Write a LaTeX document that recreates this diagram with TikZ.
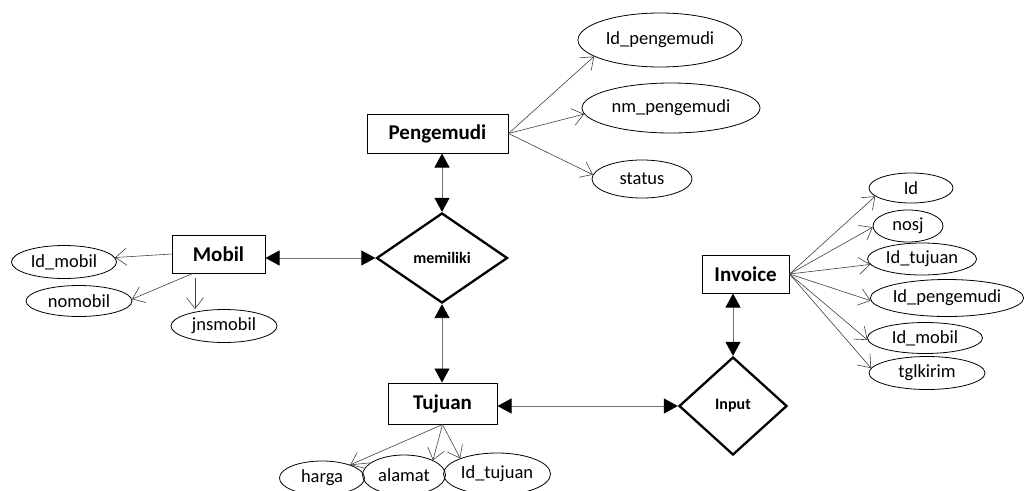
\documentclass[tikz,border=0pt]{standalone}
\usepackage{fontspec}
\setmainfont{Carlito}
\usetikzlibrary{arrows.meta,shapes.geometric}
\begin{document}
\begin{tikzpicture}[x=1pt,y=-1pt,
  entity/.style={draw,line width=1pt,rectangle,inner sep=0pt,font=\fontsize{21}{21}\selectfont\bfseries},
  rel/.style={draw,line width=2.3pt,diamond,inner sep=0pt,font=\fontsize{16}{16}\selectfont\bfseries},
  attr/.style={draw,line width=0.8pt,ellipse,inner sep=0pt,font=\fontsize{18.5}{18.5}\selectfont},
  aline/.style={draw=black!75,line width=0.6pt,-{Straight Barb[length=11pt,width=17pt,line width=0.6pt]}},
  rline/.style={draw=black!55,line width=0.9pt,{Triangle[length=14pt,width=15pt,color=black]}-{Triangle[length=14pt,width=15pt,color=black]}}
]
\useasboundingbox (0,0) rectangle (1024,490);
% entities
\node[entity,minimum width=141pt,minimum height=39pt] (peng) at (437.5,133.5) {Pengemudi};
\node[entity,minimum width=93pt,minimum height=38pt] (mobil) at (218.5,254) {Mobil};
\node[entity,minimum width=109pt,minimum height=41pt] (tuj) at (442.5,403.5) {Tujuan};
\node[entity,minimum width=87pt,minimum height=38pt] (inv) at (745.5,274) {Invoice};
% relationships
\node[rel,minimum width=131pt,minimum height=90pt] (mem) at (442,258) {memiliki};
\node[rel,minimum width=108pt,minimum height=98pt] (inp) at (733,406) {Input};
% attributes
\node[attr,minimum width=164pt,minimum height=54pt] (idp) at (660,40) {Id\_pengemudi};
\node[attr,minimum width=178pt,minimum height=50pt] (nmp) at (671,108) {nm\_pengemudi};
\node[attr,minimum width=100pt,minimum height=38pt] (status) at (642,179) {status};
\node[attr,minimum width=105pt,minimum height=33pt] (idm) at (64,262) {Id\_mobil};
\node[attr,minimum width=106pt,minimum height=31pt] (nom) at (79,301) {nomobil};
\node[attr,minimum width=106pt,minimum height=33pt] (jns) at (224,326) {jnsmobil};
\node[attr,minimum width=85pt,minimum height=34pt] (harga) at (322,478) {harga};
\node[attr,minimum width=83pt,minimum height=40pt] (alamat) at (404,475) {alamat};
\node[attr,minimum width=107pt,minimum height=42pt] (idt) at (497,474) {Id\_tujuan};
\node[attr,minimum width=84pt,minimum height=30pt] (iid) at (911,188) {Id};
\node[attr,minimum width=70pt,minimum height=32pt] (nosj) at (908,226) {nosj};
\node[attr,minimum width=109pt,minimum height=32pt] (iidt) at (922,259) {Id\_tujuan};
\node[attr,minimum width=149pt,minimum height=37pt] (iidp) at (947,298) {Id\_pengemudi};
\node[attr,minimum width=115pt,minimum height=31pt] (iidm) at (925,338) {Id\_mobil};
\node[attr,minimum width=116pt,minimum height=33pt] (tgl) at (927,373) {tglkirim};
% attribute connectors
\draw[aline] (peng.east) -- (idp.194);
\draw[aline] (peng.east) -- (nmp.184);
\draw[aline] (peng.east) -- (status.175);
\draw[aline] (mobil.west) -- (idm.5);
\draw[aline] (mobil.217) -- (nom.2);
\coordinate (jm) at (195,278);
\draw[aline] (jm) -- (jm |- jns.north);
\draw[aline] (tuj.south) -- (harga.25);
\draw[draw=black!75,line width=0.6pt] (harga.25) -- (alamat.160);
\draw[aline] (tuj.south) -- (alamat.27);
\draw[aline] (tuj.south) -- (idt.157);
\draw[aline] (inv.east) -- (iid.193);
\draw[aline] (inv.east) -- (nosj.182);
\draw[aline] (inv.east) -- (iidt.186);
\draw[aline] (inv.east) -- (iidp.182);
\draw[aline] (inv.east) -- (iidm.182);
\draw[aline] (inv.east) -- (tgl.175);
% relationship connectors
\draw[rline] (mem.north |- peng.south) -- (mem.north);
\draw[rline] (mobil.east |- mem.west) -- (mem.west);
\draw[rline] (mem.south) -- (mem.south |- tuj.north);
\draw[rline] (inp.west -| tuj.east) -- (inp.west);
\draw[rline] (inp.north |- inv.south) -- (inp.north);
\end{tikzpicture}
\end{document}
